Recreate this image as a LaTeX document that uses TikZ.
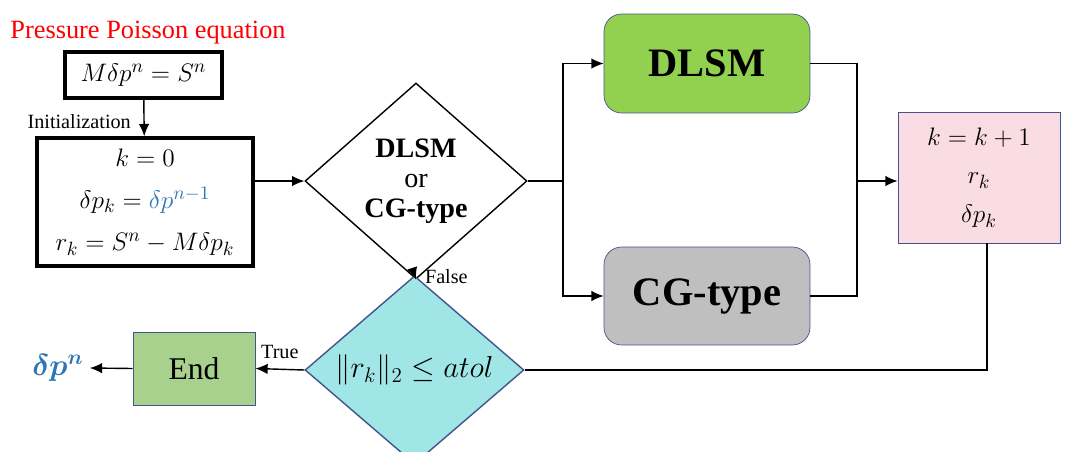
\documentclass[tikz,border=0pt]{standalone}
\usepackage{amsmath,bm}
\usepackage{fontspec}
\setmainfont{Liberation Serif}
\usetikzlibrary{shapes.geometric,arrows.meta}
\definecolor{myblue}{RGB}{46,117,182}
\definecolor{dlsmgreen}{RGB}{146,208,80}
\definecolor{endgreen}{RGB}{169,209,142}
\definecolor{cggray}{RGB}{191,191,191}
\definecolor{kpink}{RGB}{250,221,228}
\definecolor{cyanfill}{RGB}{160,230,230}
\definecolor{boxedge}{RGB}{68,84,140}
\tikzset{
  line/.style = {line width=0.8pt},
  arr/.style = {line, -{Latex[length=7pt,width=6pt]}},
  blk/.style = {draw, line width=2pt, align=center, inner sep=0pt},
  lab/.style = {font=\fontsize{11.5}{13}\selectfont}
}
\begin{document}
\begin{tikzpicture}[x=0.02cm, y=-0.02cm]
\useasboundingbox (0,0) rectangle (1080,451);
        % pressure equation
        \node[text=red, font=\fontsize{15}{18}\selectfont] (title) at (148,33) {Pressure Poisson equation};
        \node[blk, minimum width=3.14cm, minimum height=0.92cm, font=\fontsize{15}{18}\selectfont] (eq) at (143.5,75) {$M\delta p^n = S^n$};
        \node[blk, minimum width=4.32cm, minimum height=2.56cm, font=\fontsize{15}{22}\selectfont] (init) at (145,202)
            {$k=0$\\[2pt] $\delta p_k = {\color{myblue}\delta p^{n-1}}$\\[2pt] $r_k = S^n - M\delta p_k$};
        \node[lab, anchor=east] at (137,122) {Initialization};
        % decisions
        \node[diamond, draw, line width=0.8pt, minimum width=4.44cm, minimum height=3.92cm, inner sep=0pt,
              align=center, font=\bfseries\fontsize{16}{18}\selectfont] (choice) at (416,181) {DLSM\\[-1pt]{\mdseries or}\\[-1pt]CG-type};
        \node[diamond, draw=boxedge, fill=cyanfill, line width=0.8pt, minimum width=4.38cm, minimum height=2.84cm,
              inner sep=0pt, font=\fontsize{17}{20}\selectfont] (check) at (414.5,370) {$\|r_k\|_2 \leq atol$};
        % solvers
        \node[draw=boxedge, fill=dlsmgreen, rounded corners=10pt, minimum width=4.12cm, minimum height=1.98cm,
              font=\bfseries\fontsize{23}{26}\selectfont] (dlsm) at (707,63.5) {DLSM};
        \node[draw=boxedge, fill=cggray, rounded corners=10pt, minimum width=4.12cm, minimum height=1.96cm,
              font=\bfseries\fontsize{23}{26}\selectfont] (cg) at (707,296) {CG-type};
        \node[draw=boxedge, fill=kpink, minimum width=3.24cm, minimum height=2.62cm, align=center,
              font=\fontsize{15}{22}\selectfont] (upd) at (979,177.5) {$k=k+1$\\ $r_k$\\ $\delta p_k$};
        \node[draw=boxedge, fill=endgreen, minimum width=2.44cm, minimum height=1.46cm,
              font=\fontsize{18}{20}\selectfont] (end) at (194,368.5) {End};
        \node[text=myblue, font=\fontsize{17}{20}\selectfont] (out) at (58,368) {$\bm{\delta p^n}$};
        % coordinates
        \coordinate (split) at (563,181);
        \coordinate (join) at (857,181);
        % connectors
        \draw[arr] (eq) -- (init);
        \draw[arr] (init.east |- split) -- (choice.west);
        \draw[line] (choice.east) -- (split);
        \draw[arr] (split) |- (dlsm.west);
        \draw[arr] (split) |- (cg.west);
        \draw[line] (dlsm.east) -| (join);
        \draw[line] (cg.east) -| (join);
        \draw[arr] (join) -- (join -| upd.west);
        \draw[line] (upd.south -| 987,0) |- (check.east);
        \draw[arr] (check.north) -- node[lab, right=2pt, pos=0.3] {False} (choice.south);
        \draw[arr] (check.west) -- node[lab, above=2pt] {True} (end.east);
        \draw[arr] (end.west) -- (out.east);
\end{tikzpicture}
\end{document}
